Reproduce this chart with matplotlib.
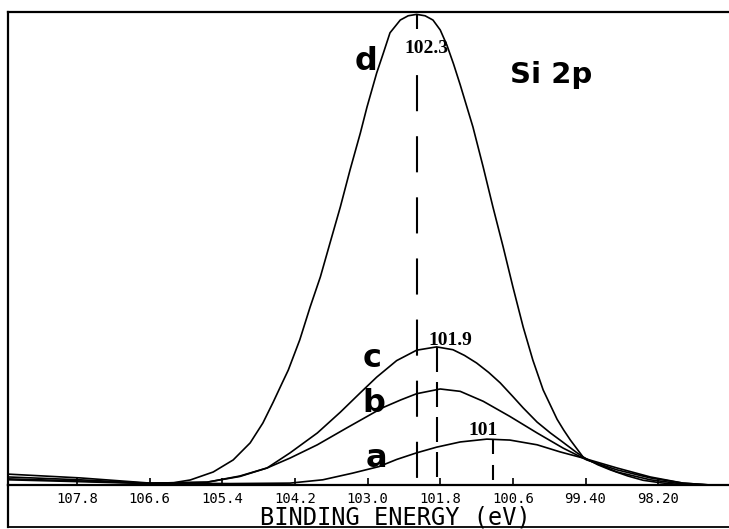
import numpy as np
import matplotlib
matplotlib.use("Agg")
import matplotlib.pyplot as plt
from matplotlib.lines import Line2D

# binding energy (eV) / intensity (arb. units, 0-100)
energy_a = [108.94, 107.75, 106.59, 105.27, 104.28, 103.74, 103.25, 102.81, 102.52,
            102.19, 101.86, 101.47, 101.03, 100.65, 100.20, 99.82, 99.44, 98.88,
            98.33, 97.79, 97.34]
int_a = [2.3, 1.5, 0.4, 0.3, 0.4, 1.1, 2.5, 3.9, 5.4,
         6.8, 8.0, 9.1, 9.7, 9.5, 8.5, 7.0, 5.7, 3.6,
         1.7, 0.4, 0.0]

energy_b = [108.94, 107.75, 106.59, 105.65, 105.11, 104.66, 104.28, 103.83, 103.34,
            102.91, 102.74, 102.45, 102.19, 101.80, 101.47, 101.09, 100.65, 100.20,
            99.77, 99.38, 98.88, 98.33, 97.79, 97.34]
int_b = [1.7, 1.1, 0.35, 0.6, 1.8, 3.6, 5.7, 8.5, 12.1,
         15.2, 16.4, 18.0, 19.3, 20.3, 19.8, 17.7, 14.5, 11.0,
         7.8, 5.3, 3.2, 1.5, 0.4, 0.0]

energy_c = [108.94, 107.75, 106.59, 105.65, 105.11, 104.66, 104.28, 103.83, 103.45,
            103.12, 102.85, 102.52, 102.19, 101.86, 101.59, 101.40, 101.20, 101.00,
            100.81, 100.60, 100.43, 100.20, 99.98, 99.80, 99.54, 99.38, 98.88,
            98.33, 97.79, 97.34]
int_c = [1.3, 0.85, 0.35, 0.6, 1.9, 3.6, 6.8, 11.0, 15.4,
         19.5, 22.8, 26.3, 28.5, 29.2, 28.6, 27.4, 25.8, 23.8,
         21.6, 18.7, 16.3, 13.3, 11.0, 9.3, 6.8, 5.4, 2.75,
         1.1, 0.2, 0.0]

energy_d = [108.94, 107.75, 106.64, 106.20, 105.93, 105.55, 105.22, 104.94, 104.73,
            104.56, 104.41, 104.31, 104.12, 103.95, 103.78, 103.62, 103.45, 103.29,
            103.12, 103.01, 102.85, 102.74, 102.63, 102.46, 102.33, 102.19, 102.05,
            101.92, 101.80, 101.69, 101.58, 101.47, 101.26, 101.09, 100.93, 100.76,
            100.60, 100.43, 100.27, 100.10, 99.87, 99.76, 99.65, 99.44, 99.20,
            98.99, 98.70, 98.45, 98.15, 97.89, 97.60]
int_d = [1.1, 0.7, 0.3, 0.5, 1.06, 2.75, 5.3, 8.9, 13.1,
         17.5, 21.6, 24.3, 30.7, 37.6, 44.0, 51.2, 58.8, 66.6,
         74.4, 79.9, 87.1, 91.3, 95.6, 98.3, 99.2, 99.5, 99.2,
         98.3, 96.2, 93.0, 89.0, 84.6, 75.7, 67.2, 58.8, 50.3,
         41.9, 33.4, 26.4, 20.1, 13.9, 11.6, 9.5, 5.9, 4.3,
         3.2, 1.9, 1.0, 0.45, 0.15, 0.0]

peak_energy = [102.19, 101.85, 100.93]
peak_labels = ["102.3", "101.9", "101"]

tick_pos = [107.8, 106.6, 105.4, 104.2, 103.0, 101.8, 100.6, 99.4, 98.2]
tick_labels = ["107.8", "106.6", "105.4", "104.2", "103.0", "101.8", "100.6", "99.40", "98.20"]

plt.rcParams["lines.scale_dashes"] = False

fig = plt.figure(figsize=(7.29, 5.29), dpi=100)
ax = fig.add_axes([8 / 729, 44 / 529, 721 / 729, 473 / 529])

for e, i in [(energy_a, int_a), (energy_b, int_b), (energy_c, int_c), (energy_d, int_d)]:
    ax.plot(e, i, color="black", lw=1.2, zorder=3, solid_joinstyle="round")

# dashed markers at the peak positions, from the curve down to the baseline
peak_curves = [(energy_d, int_d), (energy_c, int_c), (energy_a, int_a)]
dash_styles = [(0, (26, 18)), (0, (18, 7.2)), (0, (10.8, 7.9))]
for pe, (e, i), ds in zip(peak_energy, peak_curves, dash_styles):
    top = np.interp(pe, e[::-1], i[::-1])
    ax.plot([pe, pe], [top, 0], color="black", lw=1.5, linestyle=ds, zorder=2)

lbl_font = dict(family="Liberation Serif", weight="bold", size=14)
ax.text(102.02, 91.3, peak_labels[0], ha="center", va="baseline", zorder=2.5,
        bbox=dict(boxstyle="square,pad=0.55", fc="white", ec="none"), **lbl_font)
ax.text(101.64, 29.6, peak_labels[1], ha="center", va="baseline", **lbl_font)
ax.text(101.09, 10.6, peak_labels[2], ha="center", va="baseline", **lbl_font)

let_font = dict(family="DejaVu Sans", weight="bold", size=23)
ax.text(103.02, 87.7, "d", ha="center", va="baseline", **let_font)
ax.text(102.93, 24.9, "c", ha="center", va="baseline", **let_font)
ax.text(102.89, 15.4, "b", ha="center", va="baseline", **let_font)
ax.text(102.86, 3.8, "a", ha="center", va="baseline", **let_font)
ax.text(99.97, 85.0, "Si 2p", ha="center", va="baseline",
        family="DejaVu Sans", weight="bold", size=21)

ax.set_xlim(108.94, 97.03)
ax.set_ylim(0, 100)
ax.set_xticks(tick_pos)
ax.set_xticklabels(tick_labels, family="DejaVu Sans Mono", size=10)
ax.tick_params(axis="x", direction="in", length=5, width=1.2, pad=5)
ax.set_yticks([])
ax.spines["right"].set_visible(False)
for s in ["left", "top", "bottom"]:
    ax.spines[s].set_linewidth(1.6)

# outer frame below the axis
fig.add_artist(Line2D([8 / 729, 8 / 729], [44 / 529, 2 / 529], color="black", lw=1.6))
fig.add_artist(Line2D([8 / 729, 1.0], [2 / 529, 2 / 529], color="black", lw=1.3))

fig.text(395 / 729, 5 / 529, "BINDING ENERGY (eV)", ha="center", va="baseline",
         family="DejaVu Sans Mono", size=17)

fig.savefig("out.png", dpi=100)
